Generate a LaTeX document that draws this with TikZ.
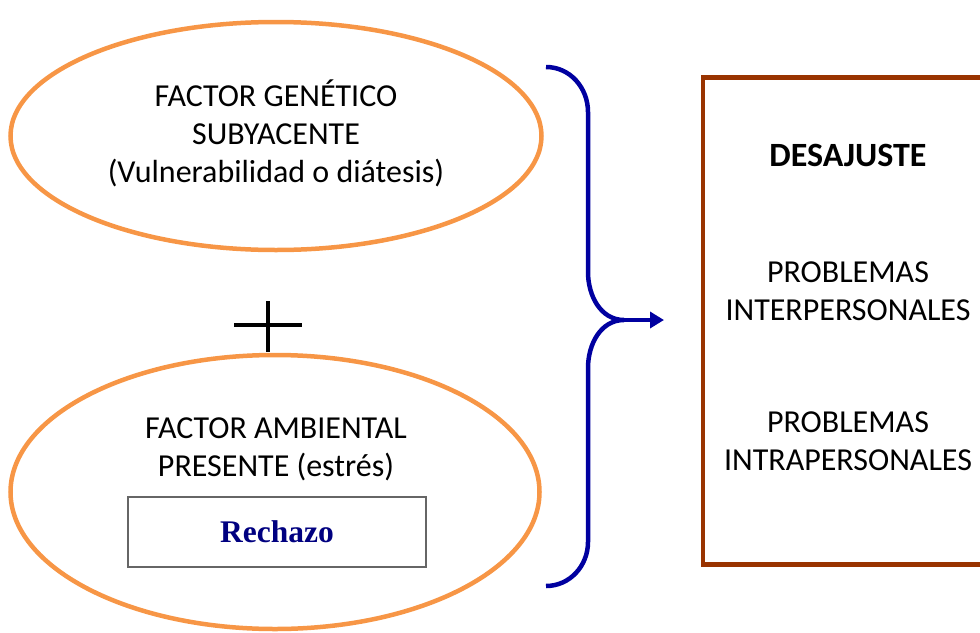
\documentclass[tikz,border=0pt]{standalone}
\usepackage{fontspec}
\setmainfont{Carlito}
\newfontfamily\timesfont{Liberation Serif}
\usetikzlibrary{shapes.geometric, arrows.meta, positioning}
\definecolor{factor}{RGB}{247, 150, 70}
\definecolor{brace}{RGB}{0, 0, 160}
\definecolor{result}{RGB}{153, 51, 0}
\definecolor{rechazo}{RGB}{0, 0, 128}

\begin{document}
\begin{tikzpicture}[x=1pt, y=-1pt,
    factorbox/.style={ellipse, draw=factor, line width=4.5pt, inner sep=0pt},
    txt/.style={align=center, font=\fontsize{32}{38}\selectfont},
    rechazobox/.style={rectangle, draw=black!60, line width=1.5pt,
                minimum width=298pt, minimum height=70pt}]
    \useasboundingbox (0,0) rectangle (980,632);
    \clip (0,0) rectangle (980,632);

    % Factors
    \node[factorbox, minimum width=531pt, minimum height=228pt] (genetico) at (276,136) {};
    \node[txt] (genetext) at (276,133) {FACTOR GENÉTICO\\SUBYACENTE\\(Vulnerabilidad o diátesis)};
    \node[factorbox, minimum width=529pt, minimum height=274pt] (ambiental) at (275,492) {};
    \node[txt] (ambtext) at (276,449) {FACTOR AMBIENTAL\\PRESENTE (estrés)};
    \node[rechazobox, font=\timesfont\bfseries\fontsize{31.5}{34}\selectfont, text=rechazo] (rechazo) at (277,532) {Rechazo};

    % Plus sign
    \draw[line width=3.5pt] (234,325) -- (302,325);
    \draw[line width=3.5pt] (268,301) -- (268,352);

    % Result
    \node[rectangle, draw=result, line width=4.5pt, minimum width=290pt, minimum height=487pt] (desajuste) at (848,321) {};
    \node[txt, font=\bfseries\fontsize{34}{38}\selectfont] (titulo) at (848,155) {DESAJUSTE};
    \node[txt] (inter) at (848,291) {PROBLEMAS\\INTERPERSONALES};
    \node[txt] (intra) at (848,441) {PROBLEMAS\\INTRAPERSONALES};

    % Brace
    \coordinate (tip) at (624,320);
    \draw[brace, line width=4.5pt] (546,67) to[out=0, in=90] (588,112) -- (588,272)
        to[out=-90, in=180] (tip) to[out=180, in=90] (588,368) -- (588,542)
        to[out=-90, in=0] (546,586);
    \draw[brace, line width=4.5pt, -{Triangle[length=14pt, width=16pt]}] (tip) -- (664,320);
\end{tikzpicture}
\end{document}
